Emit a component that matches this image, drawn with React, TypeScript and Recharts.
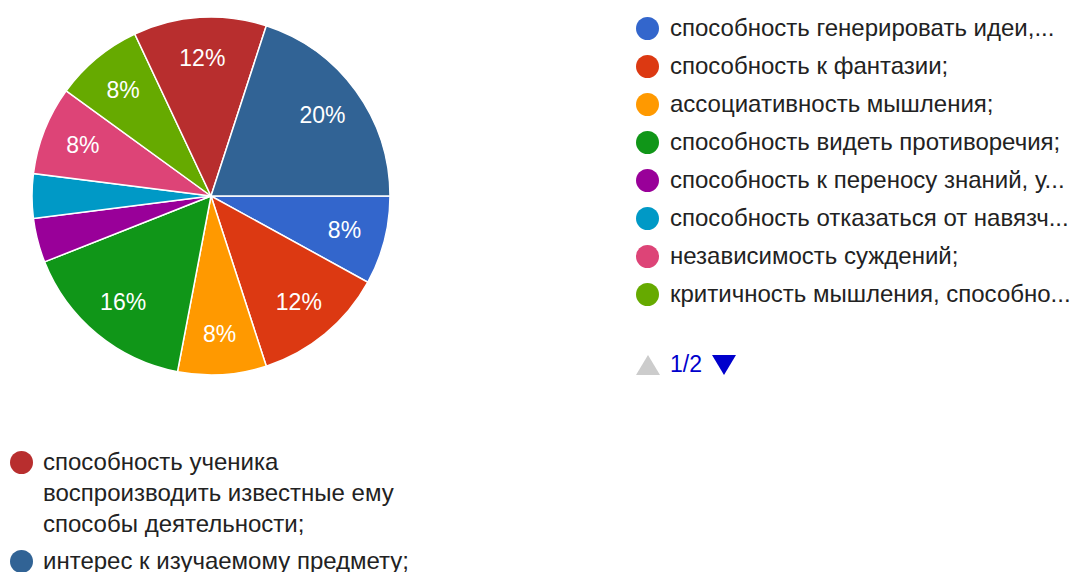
import { PieChart, Pie, Cell } from "recharts"

const names = [
  "способность генерировать идеи,...",
  "способность к фантазии;",
  "ассоциативность мышления;",
  "способность видеть противоречия;",
  "способность к переносу знаний, у...",
  "способность отказаться от навязч...",
  "независимость суждений;",
  "критичность мышления, способно...",
  "способность ученика воспроизводить известные ему способы деятельности;",
  "интерес к изучаемому предмету;",
]
const values = [8, 12, 8, 16, 4, 4, 8, 8, 12, 20]
const colors = ["#3366cc", "#dc3912", "#ff9900", "#109618", "#990099", "#0099c6", "#dd4477", "#66aa00", "#b82e2e", "#316395"]

const data = names.map((n, i) => ({ name: n, value: values[i] }))
const RAD = Math.PI / 180
const font = "'Liberation Sans', Arial, sans-serif"

function renderLabel({ cx, cy, midAngle, outerRadius, percent }: any) {
  if (percent < 0.05) return null
  const r = outerRadius * 0.77
  const x = cx + r * Math.cos(-midAngle * RAD)
  const y = cy + r * Math.sin(-midAngle * RAD)
  return (
    <text x={x} y={y} fill="#fff" fontSize={23} fontFamily={font} textAnchor="middle" dominantBaseline="central">
      {Math.round(percent * 100)}%
    </text>
  )
}

function Dot({ color }: { color: string }) {
  return <span style={{ display: "inline-block", width: 23, height: 23, borderRadius: 12, background: color, flex: "none" }} />
}

export default function App() {
  return (
    <div style={{ position: "absolute", left: 0, top: 0, width: 1074, height: 572, background: "#fff", fontFamily: font, overflow: "hidden" }}>
      <div style={{ position: "absolute", left: 0, top: 0 }}>
        <PieChart width={420} height={400} margin={{ top: 0, right: 0, bottom: 0, left: 0 }}>
          <Pie data={data} dataKey="value" cx={211} cy={196} outerRadius={179} startAngle={0} endAngle={-360}
            stroke="#fff" strokeWidth={1.5} label={renderLabel} labelLine={false} isAnimationActive={false}>
            {data.map((d, i) => <Cell key={d.name} fill={colors[i]} />)}
          </Pie>
        </PieChart>
      </div>
      <div style={{ position: "absolute", left: 636, top: 9 }}>
        {names.slice(0, 8).map((n, i) => (
          <div key={n} style={{ display: "flex", alignItems: "center", height: 38, gap: 11, fontSize: 24, color: "#222", whiteSpace: "nowrap" }}>
            <Dot color={colors[i]} />
            <span>{n}</span>
          </div>
        ))}
        <div style={{ display: "flex", alignItems: "center", marginTop: 38, gap: 10, fontSize: 23 }}>
          <svg width={24} height={21}><polygon points="0,21 12,1 24,21" fill="#ccc" /></svg>
          <span style={{ color: "#0000cc" }}>1/2</span>
          <svg width={24} height={21}><polygon points="0,1 24,1 12,21" fill="#0000cc" /></svg>
        </div>
      </div>
      <div style={{ position: "absolute", left: 10, top: 446, width: 420 }}>
        {names.slice(8).map((n, i) => (
          <div key={n} style={{ display: "flex", alignItems: "flex-start", gap: 10, fontSize: 24, lineHeight: "31px", color: "#222", marginBottom: 6 }}>
            <span style={{ marginTop: 4 }}><Dot color={colors[8 + i]} /></span>
            <span>{n}</span>
          </div>
        ))}
      </div>
    </div>
  )
}
